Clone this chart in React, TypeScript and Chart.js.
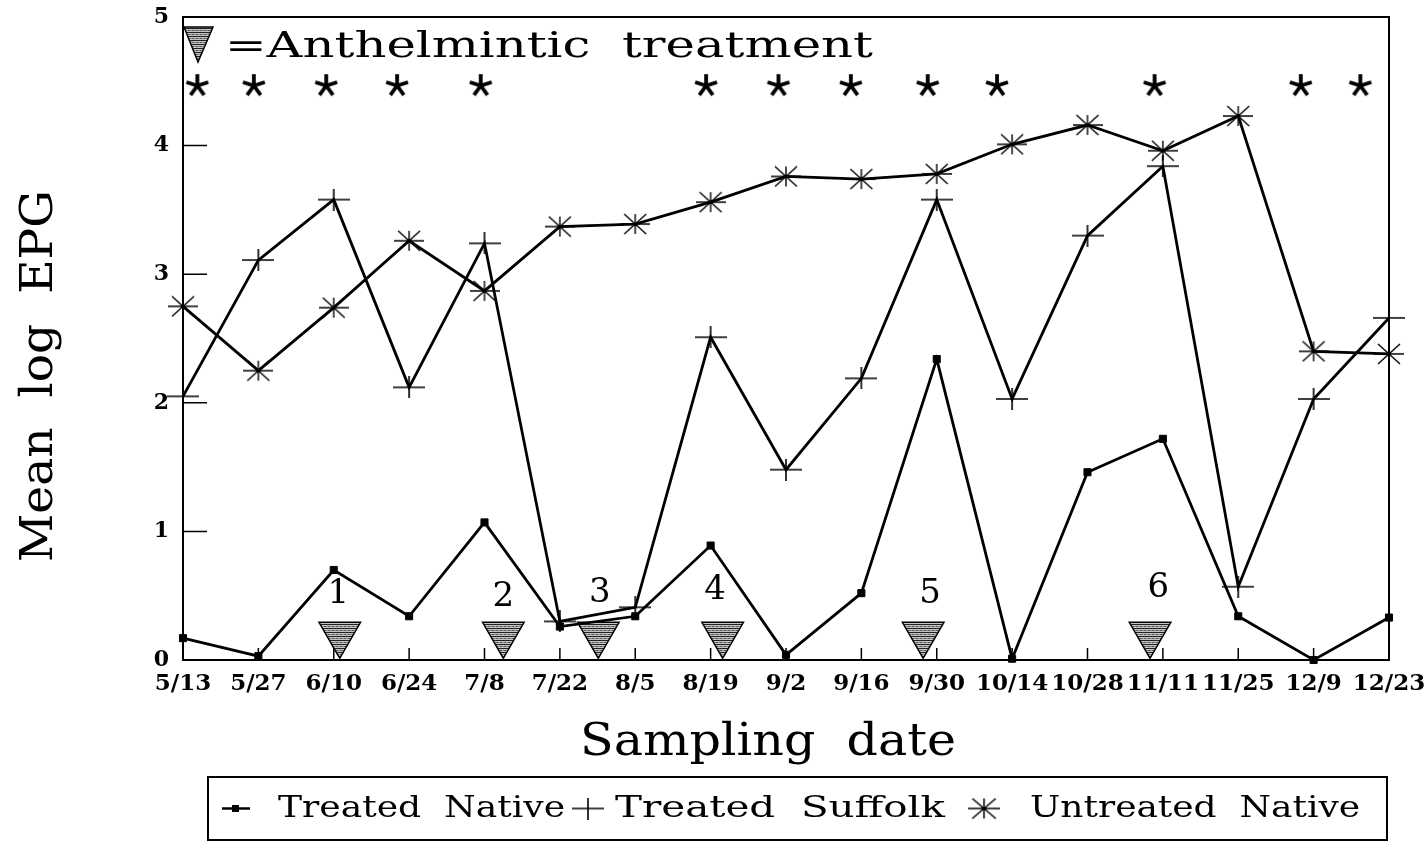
import { useEffect, useRef } from 'react';
import { Chart, registerables } from 'chart.js';

Chart.register(...registerables);

// ---------- data ----------
const DATES = ['5/13', '5/27', '6/10', '6/24', '7/8', '7/22', '8/5', '8/19', '9/2', '9/16', '9/30', '10/14', '10/28', '11/11', '11/25', '12/9', '12/23'];
const TREATED_NATIVE = [0.17, 0.03, 0.70, 0.34, 1.07, 0.26, 0.34, 0.89, 0.04, 0.52, 2.34, 0.01, 1.46, 1.72, 0.34, 0.0, 0.33];
const TREATED_SUFFOLK = [2.05, 3.11, 3.58, 2.12, 3.24, 0.30, 0.41, 2.51, 1.48, 2.19, 3.58, 2.03, 3.30, 3.84, 0.57, 2.03, 2.66];
const UNTREATED_NATIVE = [2.75, 2.25, 2.74, 3.26, 2.87, 3.37, 3.39, 3.56, 3.76, 3.74, 3.78, 4.01, 4.16, 3.96, 4.23, 2.40, 2.38];
const SERIES_LABELS = ['Treated  Native', 'Treated  Suffolk', 'Untreated  Native'];
const Y_MIN = 0;
const Y_MAX = 5;
// significance asterisks (x in sampling-date index units)
const SIG_X = [0.19, 0.94, 1.90, 2.84, 3.95, 6.94, 7.90, 8.86, 9.88, 10.80, 12.89, 14.83, 15.62];
const SIG_Y = 4.47;
// anthelmintic treatments
const TREAT_X = [2.08, 4.25, 5.51, 7.16, 9.82, 12.83];
const TREAT_Y = 0.2;
const TREAT_NUMBERS = ['1', '2', '3', '4', '5', '6'];
const TREAT_LABEL_X = [2.06, 4.25, 5.53, 7.06, 9.91, 12.94];
const TREAT_LABEL_Y = [0.51, 0.49, 0.52, 0.54, 0.51, 0.56];
const KEY_TEXT = '=Anthelmintic  treatment';
const X_TITLE = 'Sampling  date';
const Y_TITLE = 'Mean  log  EPG';

const SERIF = "'DejaVu Serif', serif";

function makeCanvas(w: number, h: number, draw: (c: CanvasRenderingContext2D, w: number, h: number) => void) {
  const cv = document.createElement('canvas');
  cv.width = w;
  cv.height = h;
  const c = cv.getContext('2d')!;
  draw(c, w, h);
  return cv;
}

// draws text horizontally stretched to a given width (the original uses a wide typeface)
function fitText(ctx: any, text: string, x: number, y: number, width: number, align: 'left' | 'center') {
  const w0 = ctx.measureText(text).width;
  const sx = width / w0;
  ctx.save();
  ctx.translate(align === 'center' ? x - width / 2 : x, y);
  ctx.scale(sx, 1);
  ctx.textAlign = 'left';
  ctx.fillText(text, 0, 0);
  ctx.restore();
}

export default function App() {
  const ref = useRef<HTMLCanvasElement>(null);

  useEffect(() => {
    const canvas = ref.current!;
    const baseCtx = canvas.getContext('2d')!;

    const patCanvas = makeCanvas(4, 4, (c) => {
      c.fillStyle = '#c4c4c4';
      c.fillRect(0, 0, 4, 4);
      c.fillStyle = '#222';
      c.fillRect(0, 0, 4, 1);
      c.fillStyle = '#555';
      c.fillRect(0, 2, 2, 1);
      c.fillStyle = '#888';
      c.fillRect(2, 2, 2, 1);
    });
    const pattern = baseCtx.createPattern(patCanvas, 'repeat')!;

    const plusImg = makeCanvas(32, 22, (c, w, h) => {
      c.strokeStyle = '#000';
      c.lineWidth = 1.6;
      c.beginPath();
      c.moveTo(0, h / 2);
      c.lineTo(w, h / 2);
      c.moveTo(w / 2, 0);
      c.lineTo(w / 2, h);
      c.stroke();
    });
    const asteriskImg = makeCanvas(30, 22, (c, w, h) => {
      c.strokeStyle = '#000';
      c.lineWidth = 1.4;
      c.beginPath();
      c.moveTo(0, h / 2);
      c.lineTo(w, h / 2);
      c.moveTo(w / 2, 1);
      c.lineTo(w / 2, h - 1);
      c.moveTo(4, 1);
      c.lineTo(w - 4, h - 1);
      c.moveTo(w - 4, 1);
      c.lineTo(4, h - 1);
      c.stroke();
    });
    const sigImg = makeCanvas(28, 28, (c) => {
      c.strokeStyle = '#000';
      c.lineWidth = 3.8;
      c.lineCap = 'butt';
      c.beginPath();
      const cx = 14, cy = 14.5, r = 11.5;
      [-90, -18, 54, 126, 198].forEach((a) => {
        const rad = (a * Math.PI) / 180;
        c.moveTo(cx, cy);
        c.lineTo(cx + Math.cos(rad) * r, cy + Math.sin(rad) * r);
      });
      c.stroke();
    });

    const toXY = (arr: number[]) => arr.map((y, x) => ({ x, y }));

    const decor = {
      id: 'decor',
      beforeDatasetsDraw(chart: any) {
        const { ctx, chartArea: ca, scales } = chart;
        ctx.save();
        ctx.strokeStyle = '#000';
        ctx.lineWidth = 2;
        ctx.strokeRect(ca.left, ca.top, ca.right - ca.left, ca.bottom - ca.top);
        ctx.lineWidth = 1.5;
        ctx.beginPath();
        for (let v = Y_MIN + 1; v < Y_MAX; v++) {
          const y = scales.y.getPixelForValue(v);
          ctx.moveTo(ca.left, y);
          ctx.lineTo(ca.left + 24, y);
        }
        for (let i = 0; i < DATES.length; i++) {
          const x = scales.x.getPixelForValue(i);
          ctx.moveTo(x, ca.bottom);
          ctx.lineTo(x, ca.bottom - 12);
        }
        ctx.stroke();
        ctx.restore();
      },
      afterDraw(chart: any) {
        const { ctx, chartArea: ca, scales } = chart;
        ctx.save();
        ctx.fillStyle = '#000';
        ctx.strokeStyle = '#000';

        // treatment numbers
        ctx.font = `34px ${SERIF}`;
        ctx.textAlign = 'center';
        ctx.textBaseline = 'middle';
        TREAT_NUMBERS.forEach((t, i) => {
          ctx.fillText(t, scales.x.getPixelForValue(TREAT_LABEL_X[i]), scales.y.getPixelForValue(TREAT_LABEL_Y[i]));
        });

        // key at top-left
        ctx.beginPath();
        ctx.moveTo(ca.left + 1, ca.top + 10);
        ctx.lineTo(ca.left + 30, ca.top + 10);
        ctx.lineTo(ca.left + 15, ca.top + 45);
        ctx.closePath();
        ctx.fillStyle = pattern;
        ctx.fill();
        ctx.lineWidth = 1.5;
        ctx.stroke();
        ctx.fillStyle = '#000';
        ctx.font = `35px ${SERIF}`;
        ctx.textBaseline = 'alphabetic';
        fitText(ctx, KEY_TEXT, ca.left + 42, ca.top + 40, 648, 'left');

        // axis titles
        ctx.font = `45px ${SERIF}`;
        fitText(ctx, X_TITLE, 768, 755, 376, 'center');
        ctx.save();
        ctx.translate(52, 376);
        ctx.rotate(-Math.PI / 2);
        fitText(ctx, Y_TITLE, 0, 0, 372, 'center');
        ctx.restore();

        // legend
        const lx0 = 208, lx1 = 1387, ly0 = 777, ly1 = 840;
        const ly = (ly0 + ly1) / 2;
        ctx.lineWidth = 2;
        ctx.strokeRect(lx0, ly0, lx1 - lx0, ly1 - ly0);
        const ds = chart.data.datasets;
        ctx.lineWidth = 2.5;
        ctx.beginPath();
        ctx.moveTo(222, ly);
        ctx.lineTo(250, ly);
        ctx.stroke();
        ctx.fillRect(232, ly - 3.5, 7, 7);
        ctx.drawImage(plusImg, 588 - 16, ly - 11);
        ctx.drawImage(asteriskImg, 984 - 16, ly - 11, 32, 22);
        ctx.font = `30px ${SERIF}`;
        ctx.textBaseline = 'middle';
        fitText(ctx, ds[0].label, 278, ly + 1, 287, 'left');
        fitText(ctx, ds[1].label, 615, ly + 1, 330, 'left');
        fitText(ctx, ds[2].label, 1030, ly + 1, 330, 'left');
        ctx.restore();
      },
    };

    const lineBase = { borderColor: '#000', borderWidth: 2.8, tension: 0, fill: false, clip: false };

    const chart = new Chart(canvas, {
      type: 'line',
      data: {
        datasets: [
          {
            ...lineBase,
            label: SERIES_LABELS[0],
            data: toXY(TREATED_NATIVE),
            pointStyle: 'rect',
            pointRadius: 5,
            pointBackgroundColor: '#000',
            pointBorderColor: '#000',
            pointBorderWidth: 1,
          },
          {
            ...lineBase,
            label: SERIES_LABELS[1],
            data: toXY(TREATED_SUFFOLK),
            pointStyle: plusImg,
            pointRadius: 12,
          },
          {
            ...lineBase,
            label: SERIES_LABELS[2],
            data: toXY(UNTREATED_NATIVE),
            pointStyle: asteriskImg,
            pointRadius: 12,
          },
          {
            type: 'scatter',
            label: 'significant',
            data: SIG_X.map((x) => ({ x, y: SIG_Y })),
            pointStyle: sigImg,
            pointRadius: 12,
            showLine: false,
            clip: false,
          },
          {
            type: 'scatter',
            label: 'treatment',
            data: TREAT_X.map((x) => ({ x, y: TREAT_Y })),
            pointStyle: 'triangle',
            rotation: 180,
            pointRadius: 24,
            backgroundColor: pattern,
            borderColor: '#000',
            borderWidth: 1.5,
            showLine: false,
            clip: false,
          },
        ] as any,
      },
      options: {
        animation: false,
        responsive: false,
        devicePixelRatio: 1,
        events: [],
        layout: { autoPadding: false, padding: { top: 17, right: 37, bottom: 143, left: 0 } },
        plugins: { legend: { display: false }, tooltip: { enabled: false } },
        scales: {
          x: {
            type: 'linear',
            min: 0,
            max: DATES.length - 1,
            afterFit: (s: any) => {
              s.height = 40;
              s.paddingLeft = 0;
              s.paddingRight = 0;
            },
            ticks: {
              stepSize: 1,
              autoSkip: false,
              maxTicksLimit: 40,
              maxRotation: 0,
              minRotation: 0,
              padding: 10,
              color: '#000',
              font: { family: SERIF, size: 23, weight: 'bold' },
              callback: (v: any) => DATES[v] ?? '',
            },
            grid: { display: false, drawTicks: false },
            border: { display: true, color: '#000', width: 2 },
          },
          y: {
            type: 'linear',
            min: Y_MIN,
            max: Y_MAX,
            afterFit: (s: any) => {
              s.width = 183;
              s.paddingTop = 0;
              s.paddingBottom = 0;
            },
            ticks: {
              stepSize: 1,
              padding: 14,
              color: '#000',
              font: { family: SERIF, size: 22, weight: 'bold' },
            },
            grid: { display: false, drawTicks: false },
            border: { display: true, color: '#000', width: 2 },
          },
        },
      } as any,
      plugins: [decor],
    });
    return () => chart.destroy();
  }, []);

  return (
    <div style={{ position: 'fixed', left: 0, top: 0, width: 1426, height: 843, background: '#fff' }}>
      <canvas ref={ref} width={1426} height={843} style={{ display: 'block' }} />
    </div>
  );
}
